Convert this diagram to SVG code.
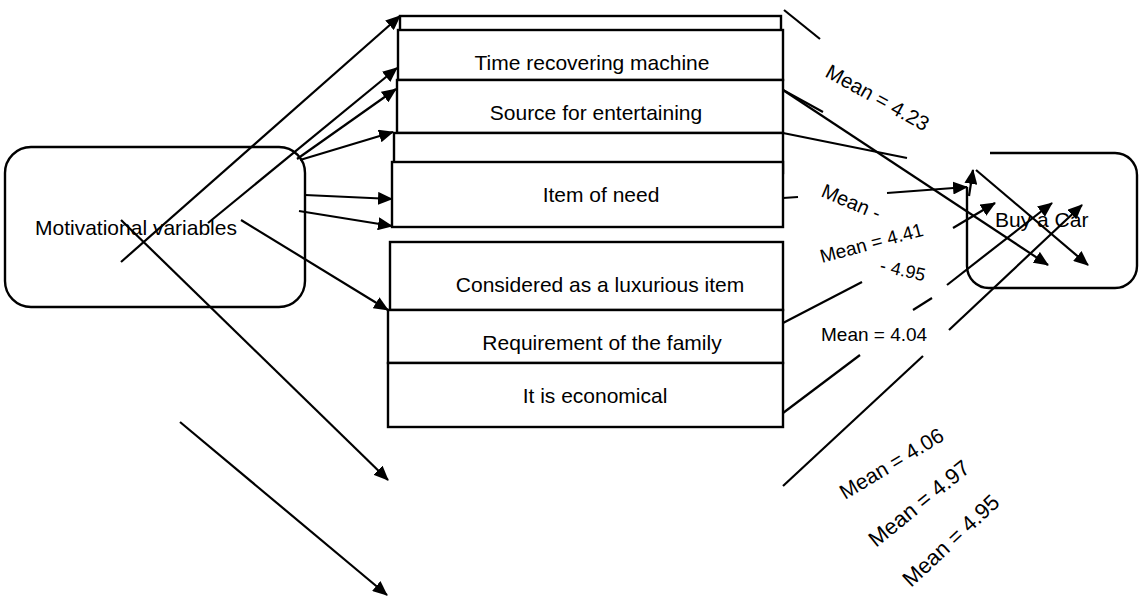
<svg xmlns="http://www.w3.org/2000/svg" width="1139" height="598" viewBox="0 0 1139 598">
<style>
.box{fill:#fff;stroke:#000;stroke-width:2.4}
.t{font-family:"Liberation Sans",Arial,sans-serif;font-size:21px;fill:#000}
.m{font-family:"Liberation Sans",Arial,sans-serif;fill:#000}
.c line{stroke:#000;stroke-width:2.2}
.c .a{marker-end:url(#ah)}
</style>
<defs>
<marker id="ah" viewBox="0 0 15 13" refX="14" refY="6.5" markerWidth="15" markerHeight="13" markerUnits="userSpaceOnUse" orient="auto">
<path d="M0,0 L15,6.5 L0,13 z" fill="#000"/>
</marker>
</defs>
<rect width="1139" height="598" fill="#fff"/>
<g id="motivational">
<rect class="box" x="5" y="147" width="300" height="160" rx="26"/>
<text class="t" x="35" y="235">Motivational variables</text>
</g>
<g id="box-a"><rect class="box" x="400" y="16" width="381" height="30"/></g>
<g id="time-recovering"><rect class="box" x="398" y="30" width="385" height="50"/><text class="t" x="592" y="70" text-anchor="middle">Time recovering machine</text></g>
<g id="source-entertaining"><rect class="box" x="397" y="80" width="386" height="53"/><text class="t" x="596" y="120" text-anchor="middle">Source for entertaining</text></g>
<g id="box-d"><rect class="box" x="394" y="133" width="389" height="40"/></g>
<g id="item-need"><rect class="box" x="392" y="162" width="391" height="65"/><text class="t" x="601" y="202" text-anchor="middle">Item of need</text></g>
<g id="luxurious"><rect class="box" x="390" y="242" width="393" height="68"/><text class="t" x="600" y="292" text-anchor="middle">Considered as a luxurious item</text></g>
<g id="requirement"><rect class="box" x="388" y="310" width="395" height="53"/><text class="t" x="602" y="350" text-anchor="middle">Requirement of the family</text></g>
<g id="economical"><rect class="box" x="388" y="363" width="395" height="64"/><text class="t" x="595" y="403" text-anchor="middle">It is economical</text></g>
<g id="buy-car">
<path d="M990,153 H1115 A22 22 0 0 1 1137 175 V266 A22 22 0 0 1 1115 288 H989 A22 22 0 0 1 967 266 V187" fill="none" stroke="#000" stroke-width="2.4"/>
<text class="t" x="995" y="227">Buy a Car</text>
</g>
<g id="connectors" class="c">
<line class="a" x1="121" y1="262" x2="400" y2="16"/>
<line class="a" x1="208" y1="223" x2="397" y2="68"/>
<line class="a" x1="297" y1="159" x2="396" y2="89"/>
<line class="a" x1="300" y1="160" x2="393" y2="132"/>
<line class="a" x1="305" y1="195" x2="392" y2="199"/>
<line class="a" x1="299" y1="211" x2="392" y2="226"/>
<line class="a" x1="241" y1="220" x2="388" y2="310"/>
<line class="a" x1="121" y1="220" x2="388" y2="480"/>
<line class="a" x1="180" y1="422" x2="387" y2="595"/>
<line x1="784" y1="10" x2="820" y2="39"/>
<line class="a" x1="783" y1="90" x2="1048" y2="265"/>
<line x1="783" y1="90" x2="823" y2="112"/>
<line x1="783" y1="133" x2="907" y2="158"/>
<line x1="783" y1="198" x2="798" y2="197"/>
<line class="a" x1="887" y1="193" x2="967" y2="187"/>
<line class="a" x1="969" y1="196" x2="973" y2="170"/>
<line class="a" x1="976" y1="170" x2="1088" y2="265"/>
<line x1="783" y1="323" x2="862" y2="282"/>
<line class="a" x1="953" y1="228" x2="995" y2="203"/>
<line x1="783" y1="413" x2="860" y2="355"/>
<line x1="913" y1="310" x2="932" y2="298"/>
<line class="a" x1="947" y1="285" x2="1052" y2="203"/>
<line x1="783" y1="486" x2="923" y2="356"/>
<line class="a" x1="949" y1="330" x2="1082" y2="205"/>
</g>
<g id="labels">
<text class="m" style="font-size:20.5px" transform="translate(824,76) rotate(29)">Mean = 4.23</text>
<text class="m" style="font-size:20px" transform="translate(820,196) rotate(23)">Mean -</text>
<text class="m" style="font-size:19px" transform="translate(822,263) rotate(-15)">Mean = 4.41</text>
<text class="m" style="font-size:18px" transform="translate(879,271) rotate(13)">- 4.95</text>
<text class="m" style="font-size:19px" x="821" y="341">Mean = 4.04</text>
<text class="m" style="font-size:21px" transform="translate(845,500) rotate(-31)">Mean = 4.06</text>
<text class="m" style="font-size:22px" transform="translate(876,548) rotate(-39)">Mean = 4.97</text>
<text class="m" style="font-size:22px" transform="translate(911,588) rotate(-43)">Mean = 4.95</text>
</g>
</svg>
